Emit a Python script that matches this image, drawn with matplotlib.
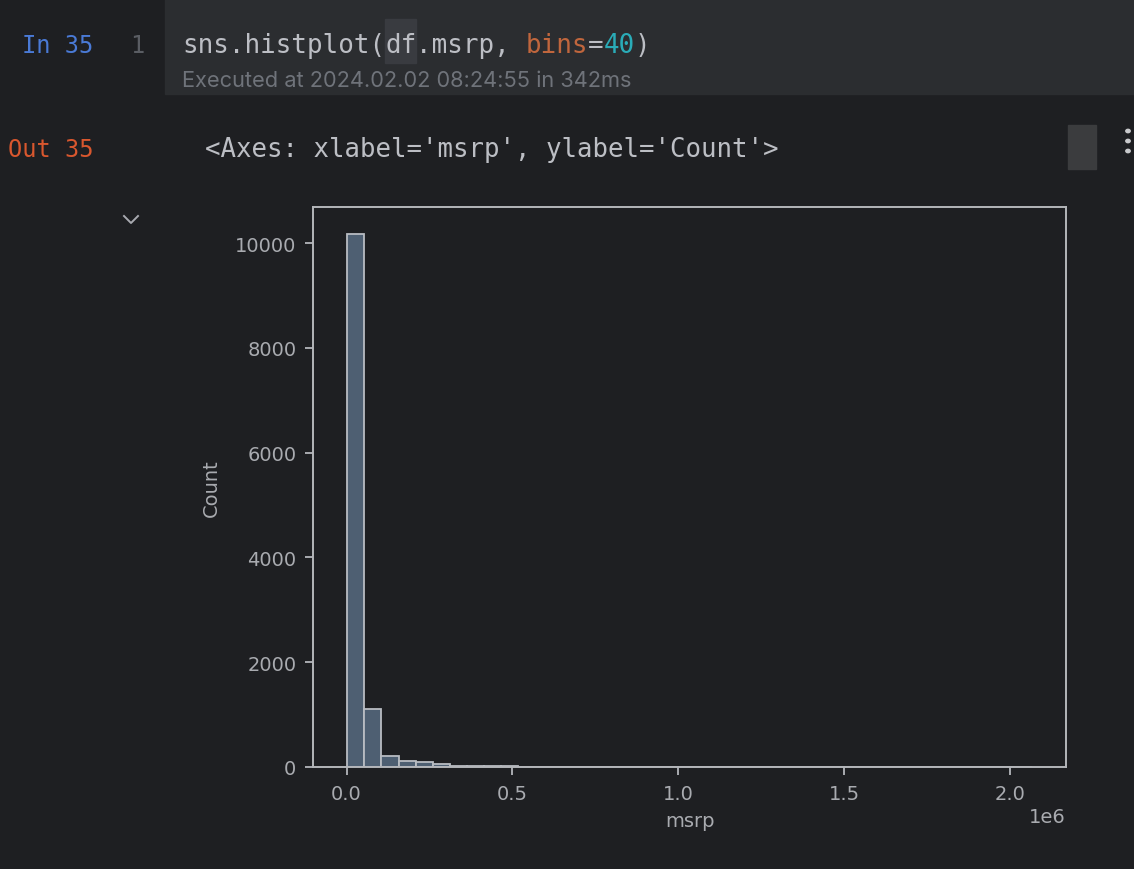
import numpy as np
import matplotlib.pyplot as plt
from matplotlib.patches import Rectangle

# histogram of msrp, 40 bins (counts)
msrp_min = 2000
msrp_max = 2065902
counts = [10180, 1110, 216, 124, 90, 61, 28, 22, 18, 15,
          6, 3, 2, 1, 1, 1, 0, 0, 0, 0,
          1, 0, 0, 0, 0, 0, 1, 0, 0, 0,
          0, 0, 0, 0, 0, 0, 0, 0, 0, 1]
yticks = [0, 2000, 4000, 6000, 8000, 10000]
xticks = [0.0, 0.5e6, 1.0e6, 1.5e6, 2.0e6]

W, H = 1134, 870
BG = '#1e1f22'
CELL = '#2b2d30'
MONO = 'DejaVu Sans Mono'

fig = plt.figure(figsize=(W / 100, H / 100), dpi=100, facecolor=BG)

def fx(px):
    return px / W

def fy(py):
    return 1 - py / H

def txt(x, y, s, **kw):
    # y is the baseline in pixels from the top
    fig.text(fx(x), fy(y), s, va='baseline', ha='left', **kw)

# code cell background
fig.patches.append(Rectangle((fx(165), fy(95)), 1 - fx(165), 95 / H,
                             transform=fig.transFigure, color=CELL, zorder=0))
# highlight behind "df"
cw = 15.62
fig.patches.append(Rectangle((fx(182 + 13 * cw), fy(64)), cw * 2 / W, 44 / H,
                             transform=fig.transFigure, color='#393b40', zorder=1))

txt(22, 53, 'In 35', family=MONO, fontsize=17, color='#4a7ad6')
txt(130, 53, '1', family=MONO, fontsize=17, color='#5a5d63')

code = [('sns.histplot(', '#bcbec4'), ('df', '#bcbec4'), ('.msrp, ', '#bcbec4'),
        ('bins', '#c0663d'), ('=', '#bcbec4'), ('40', '#2aacb8'), (')', '#bcbec4')]
pos = 0
for piece, col in code:
    txt(182 + pos * cw, 53, piece, family=MONO, fontsize=18.6, color=col, zorder=3)
    pos += len(piece)

txt(182, 87, 'Executed at 2024.02.02 08:24:55 in 342ms', family='Inter',
    fontsize=15.7, color='#6f737a')

txt(8, 157, 'Out 35', family=MONO, fontsize=17, color='#d9572e')
txt(205, 157, "<Axes: xlabel='msrp', ylabel='Count'>", family=MONO,
    fontsize=18.5, color='#bcbec4')

# scrollbar thumb and the three dots
fig.patches.append(Rectangle((fx(1068), fy(170)), 28 / W, 44 / H,
                             transform=fig.transFigure, color='#3b3c3e', zorder=1))
for dy in (132, 142, 152):
    fig.patches.append(plt.Circle((fx(1128), fy(dy)), 2.2 / W,
                                  transform=fig.transFigure, color='#c8c9cc'))
# chevron
fig.add_artist(plt.Line2D([fx(124), fx(131), fx(138)], [fy(217), fy(224), fy(217)],
                          color='#a8aab0', lw=1.4))

# the plot itself
ax = fig.add_axes([fx(313), fy(768), (1066 - 313) / W, (768 - 208) / H])
ax.set_facecolor(BG)
edges = np.linspace(msrp_min, msrp_max, len(counts) + 1)
ax.bar(edges[:-1], counts, width=np.diff(edges), align='edge',
       color='#4e5f72', edgecolor='#b8bcc2', linewidth=1.3)
ax.margins(x=0.05, y=0.05)
ax.set_ylim(0, max(counts) * 1.05)
ax.set_yticks(yticks)
ax.set_xticks(xticks)

fg = '#a9abb0'
for sp in ax.spines.values():
    sp.set_color('#b4b6ba')
    sp.set_linewidth(1.4)
ax.tick_params(colors=fg, labelsize=14, length=6, width=1.4, pad=6)
ax.set_xlabel('msrp', color=fg, fontsize=14, labelpad=6)
ax.set_ylabel('Count', color=fg, fontsize=14, labelpad=10)
ax.xaxis.get_offset_text().set_color(fg)
ax.xaxis.get_offset_text().set_fontsize(14)

fig.savefig('out.png', dpi=100, facecolor=BG)
